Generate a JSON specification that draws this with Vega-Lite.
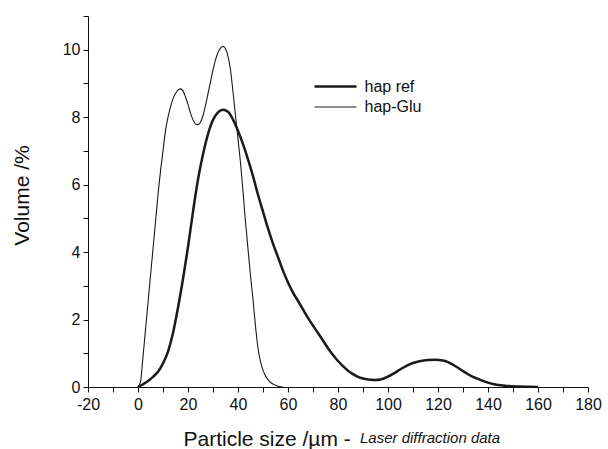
{
  "$schema": "https://vega.github.io/schema/vega-lite/v6.json",
  "width": 500,
  "height": 371,
  "autosize": {"type": "none"},
  "padding": {"left": 88, "top": 16, "right": 20, "bottom": 62},
  "background": "white",
  "config": {
    "view": {"stroke": null},
    "font": "Liberation Sans",
    "axis": {"domainColor": "#111", "tickColor": "#111", "labelColor": "#111", "titleColor": "#111", "grid": false, "tickSize": 5, "labelFontSize": 16, "titleFontSize": 21, "titleFontWeight": "normal", "labelFont": "Liberation Sans", "titleFont": "Liberation Sans"}
  },
  "title": {"text": "Laser diffraction data", "orient": "bottom", "anchor": "start", "frame": "group", "dx": 272, "offset": -6, "fontSize": 15, "fontStyle": "italic", "fontWeight": "normal", "font": "Liberation Sans", "color": "#111", "baseline": "alphabetic"},
  "data": {"values": [
    {"series": "hap-Glu", "x": 0, "y": 0}, {"series": "hap-Glu", "x": 1, "y": 0.15}, {"series": "hap-Glu", "x": 2, "y": 0.9}, {"series": "hap-Glu", "x": 3, "y": 1.7}, {"series": "hap-Glu", "x": 4, "y": 2.5}, {"series": "hap-Glu", "x": 5, "y": 3.3}, {"series": "hap-Glu", "x": 6, "y": 4.1}, {"series": "hap-Glu", "x": 7, "y": 4.9}, {"series": "hap-Glu", "x": 8, "y": 5.7}, {"series": "hap-Glu", "x": 9, "y": 6.4}, {"series": "hap-Glu", "x": 10, "y": 7.0}, {"series": "hap-Glu", "x": 11, "y": 7.6}, {"series": "hap-Glu", "x": 12, "y": 8.0}, {"series": "hap-Glu", "x": 13, "y": 8.3}, {"series": "hap-Glu", "x": 14, "y": 8.55}, {"series": "hap-Glu", "x": 15, "y": 8.7}, {"series": "hap-Glu", "x": 16, "y": 8.8}, {"series": "hap-Glu", "x": 17, "y": 8.84}, {"series": "hap-Glu", "x": 18, "y": 8.78}, {"series": "hap-Glu", "x": 19, "y": 8.6}, {"series": "hap-Glu", "x": 20, "y": 8.38}, {"series": "hap-Glu", "x": 21, "y": 8.12}, {"series": "hap-Glu", "x": 22, "y": 7.92}, {"series": "hap-Glu", "x": 23, "y": 7.8}, {"series": "hap-Glu", "x": 24, "y": 7.78}, {"series": "hap-Glu", "x": 25, "y": 7.85}, {"series": "hap-Glu", "x": 26, "y": 8.05}, {"series": "hap-Glu", "x": 27, "y": 8.35}, {"series": "hap-Glu", "x": 28, "y": 8.7}, {"series": "hap-Glu", "x": 29, "y": 9.05}, {"series": "hap-Glu", "x": 30, "y": 9.4}, {"series": "hap-Glu", "x": 31, "y": 9.7}, {"series": "hap-Glu", "x": 32, "y": 9.92}, {"series": "hap-Glu", "x": 33, "y": 10.05}, {"series": "hap-Glu", "x": 34, "y": 10.1}, {"series": "hap-Glu", "x": 35, "y": 10.03}, {"series": "hap-Glu", "x": 36, "y": 9.8}, {"series": "hap-Glu", "x": 37, "y": 9.4}, {"series": "hap-Glu", "x": 38, "y": 8.75}, {"series": "hap-Glu", "x": 39, "y": 8.05}, {"series": "hap-Glu", "x": 40, "y": 7.35}, {"series": "hap-Glu", "x": 41, "y": 6.65}, {"series": "hap-Glu", "x": 42, "y": 5.8}, {"series": "hap-Glu", "x": 43, "y": 4.9}, {"series": "hap-Glu", "x": 44, "y": 4.1}, {"series": "hap-Glu", "x": 45, "y": 3.3}, {"series": "hap-Glu", "x": 46, "y": 2.6}, {"series": "hap-Glu", "x": 47, "y": 1.8}, {"series": "hap-Glu", "x": 48, "y": 1.15}, {"series": "hap-Glu", "x": 49, "y": 0.75}, {"series": "hap-Glu", "x": 50, "y": 0.5}, {"series": "hap-Glu", "x": 51, "y": 0.33}, {"series": "hap-Glu", "x": 52, "y": 0.22}, {"series": "hap-Glu", "x": 53, "y": 0.14}, {"series": "hap-Glu", "x": 54, "y": 0.09}, {"series": "hap-Glu", "x": 55, "y": 0.05}, {"series": "hap-Glu", "x": 56, "y": 0.02}, {"series": "hap-Glu", "x": 57, "y": 0.005}, {"series": "hap-Glu", "x": 58, "y": 0},
    {"series": "hap ref", "x": 0, "y": 0}, {"series": "hap ref", "x": 2, "y": 0.08}, {"series": "hap ref", "x": 4, "y": 0.18}, {"series": "hap ref", "x": 6, "y": 0.3}, {"series": "hap ref", "x": 8, "y": 0.45}, {"series": "hap ref", "x": 10, "y": 0.7}, {"series": "hap ref", "x": 12, "y": 1.05}, {"series": "hap ref", "x": 14, "y": 1.6}, {"series": "hap ref", "x": 16, "y": 2.35}, {"series": "hap ref", "x": 18, "y": 3.2}, {"series": "hap ref", "x": 20, "y": 4.15}, {"series": "hap ref", "x": 22, "y": 5.2}, {"series": "hap ref", "x": 24, "y": 6.15}, {"series": "hap ref", "x": 26, "y": 6.9}, {"series": "hap ref", "x": 28, "y": 7.5}, {"series": "hap ref", "x": 30, "y": 7.92}, {"series": "hap ref", "x": 32, "y": 8.14}, {"series": "hap ref", "x": 34, "y": 8.22}, {"series": "hap ref", "x": 36, "y": 8.16}, {"series": "hap ref", "x": 38, "y": 7.93}, {"series": "hap ref", "x": 40, "y": 7.6}, {"series": "hap ref", "x": 42, "y": 7.2}, {"series": "hap ref", "x": 44, "y": 6.75}, {"series": "hap ref", "x": 46, "y": 6.25}, {"series": "hap ref", "x": 48, "y": 5.7}, {"series": "hap ref", "x": 50, "y": 5.2}, {"series": "hap ref", "x": 52, "y": 4.7}, {"series": "hap ref", "x": 54, "y": 4.25}, {"series": "hap ref", "x": 56, "y": 3.85}, {"series": "hap ref", "x": 58, "y": 3.45}, {"series": "hap ref", "x": 60, "y": 3.1}, {"series": "hap ref", "x": 62, "y": 2.8}, {"series": "hap ref", "x": 64, "y": 2.55}, {"series": "hap ref", "x": 66, "y": 2.3}, {"series": "hap ref", "x": 68, "y": 2.05}, {"series": "hap ref", "x": 70, "y": 1.82}, {"series": "hap ref", "x": 72, "y": 1.6}, {"series": "hap ref", "x": 74, "y": 1.38}, {"series": "hap ref", "x": 76, "y": 1.15}, {"series": "hap ref", "x": 78, "y": 0.95}, {"series": "hap ref", "x": 80, "y": 0.77}, {"series": "hap ref", "x": 82, "y": 0.62}, {"series": "hap ref", "x": 84, "y": 0.48}, {"series": "hap ref", "x": 86, "y": 0.38}, {"series": "hap ref", "x": 88, "y": 0.3}, {"series": "hap ref", "x": 90, "y": 0.25}, {"series": "hap ref", "x": 93, "y": 0.215}, {"series": "hap ref", "x": 95, "y": 0.21}, {"series": "hap ref", "x": 97, "y": 0.225}, {"series": "hap ref", "x": 100, "y": 0.31}, {"series": "hap ref", "x": 102, "y": 0.39}, {"series": "hap ref", "x": 104, "y": 0.48}, {"series": "hap ref", "x": 106, "y": 0.57}, {"series": "hap ref", "x": 108, "y": 0.65}, {"series": "hap ref", "x": 110, "y": 0.71}, {"series": "hap ref", "x": 113, "y": 0.77}, {"series": "hap ref", "x": 116, "y": 0.8}, {"series": "hap ref", "x": 119, "y": 0.81}, {"series": "hap ref", "x": 122, "y": 0.785}, {"series": "hap ref", "x": 124, "y": 0.74}, {"series": "hap ref", "x": 126, "y": 0.66}, {"series": "hap ref", "x": 128, "y": 0.57}, {"series": "hap ref", "x": 130, "y": 0.47}, {"series": "hap ref", "x": 132, "y": 0.38}, {"series": "hap ref", "x": 134, "y": 0.3}, {"series": "hap ref", "x": 136, "y": 0.24}, {"series": "hap ref", "x": 138, "y": 0.18}, {"series": "hap ref", "x": 140, "y": 0.13}, {"series": "hap ref", "x": 142, "y": 0.09}, {"series": "hap ref", "x": 145, "y": 0.05}, {"series": "hap ref", "x": 148, "y": 0.03}, {"series": "hap ref", "x": 152, "y": 0.015}, {"series": "hap ref", "x": 156, "y": 0.005}, {"series": "hap ref", "x": 160, "y": 0}
  ]},
  "mark": {"type": "line", "interpolate": "monotone", "color": "#1a1a1a", "clip": true},
  "encoding": {
    "x": {"field": "x", "type": "quantitative",
      "scale": {"domain": [-20, 180], "nice": false, "zero": false},
      "axis": {"values": [-20, -10, 0, 10, 20, 30, 40, 50, 60, 70, 80, 90, 100, 110, 120, 130, 140, 150, 160, 170, 180],
        "labelExpr": "datum.value % 20 === 0 ? '' + datum.value : ''", "labelPadding": 4, "labelFlush": false, "labelOverlap": false,
        "title": "Particle size /µm -", "titleAnchor": "start", "titleAlign": "left", "titleX": 95, "titleY": 58, "titleBaseline": "alphabetic"}},
    "y": {"field": "y", "type": "quantitative",
      "scale": {"domain": [0, 11], "nice": false},
      "axis": {"values": [0, 1, 2, 3, 4, 5, 6, 7, 8, 9, 10, 11],
        "labelExpr": "datum.value % 2 === 0 && datum.value <= 10 ? '' + datum.value : ''", "labelPadding": 3, "labelFlush": false, "labelOverlap": false,
        "title": "Volume /%", "titleX": -66, "titleY": 179, "titleAlign": "center", "titleBaseline": "middle", "titleAngle": -90}},
    "strokeWidth": {"field": "series", "type": "nominal",
      "scale": {"domain": ["hap ref", "hap-Glu"], "range": [2.5, 1.1]},
      "legend": {"title": null, "orient": "none", "legendX": 235.5, "legendY": 58.5, "padding": 0,
        "symbolType": "M-2,0L2,0", "symbolSize": 441, "symbolFillColor": "transparent", "symbolStrokeColor": "#1a1a1a",
        "labelFontSize": 16, "labelFont": "Liberation Sans", "labelColor": "#111", "labelOffset": 17, "rowPadding": 1}}
  }
}
